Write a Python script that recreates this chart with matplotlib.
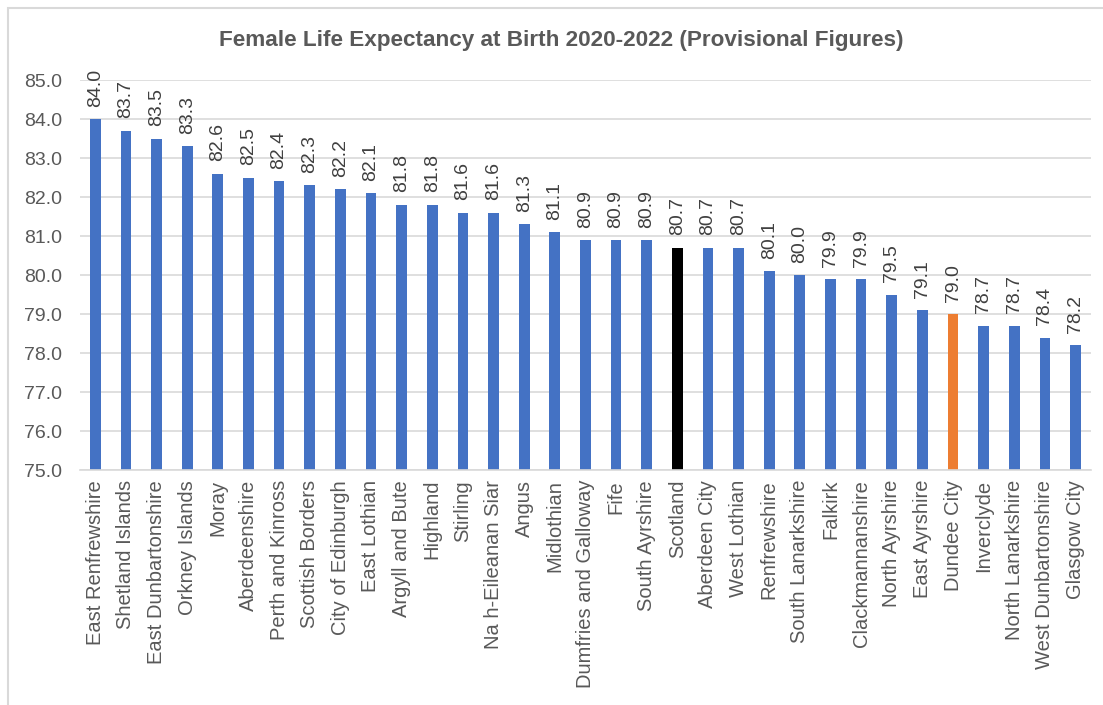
import matplotlib
matplotlib.use("Agg")
import matplotlib.pyplot as plt
from matplotlib.patches import Rectangle

plt.rcParams['font.family'] = ['Liberation Sans', 'DejaVu Sans']

areas = [
    "East Renfrewshire", "Shetland Islands", "East Dunbartonshire", "Orkney Islands",
    "Moray", "Aberdeenshire", "Perth and Kinross", "Scottish Borders",
    "City of Edinburgh", "East Lothian", "Argyll and Bute", "Highland",
    "Stirling", "Na h-Eileanan Siar", "Angus", "Midlothian",
    "Dumfries and Galloway", "Fife", "South Ayrshire", "Scotland",
    "Aberdeen City", "West Lothian", "Renfrewshire", "South Lanarkshire",
    "Falkirk", "Clackmannanshire", "North Ayrshire", "East Ayrshire",
    "Dundee City", "Inverclyde", "North Lanarkshire", "West Dunbartonshire",
    "Glasgow City",
]
life_expectancy = [
    84.0, 83.7, 83.5, 83.3, 82.6, 82.5, 82.4, 82.3, 82.2, 82.1, 81.8, 81.8,
    81.6, 81.6, 81.3, 81.1, 80.9, 80.9, 80.9, 80.7, 80.7, 80.7, 80.1, 80.0,
    79.9, 79.9, 79.5, 79.1, 79.0, 78.7, 78.7, 78.4, 78.2,
]
y_ticks = [75.0, 76.0, 77.0, 78.0, 79.0, 80.0, 81.0, 82.0, 83.0, 84.0, 85.0]

BLUE = "#4472C4"
ORANGE = "#ED7D31"
BLACK = "#000000"
highlight = {"Scotland": BLACK, "Dundee City": ORANGE}
colors = [highlight.get(a, BLUE) for a in areas]

fig = plt.figure(figsize=(11.03, 7.05), dpi=100)
ax = fig.add_axes([0.0725, 0.333, 0.9165, 0.5535])

x = list(range(len(areas)))
bottom = y_ticks[0]
ax.bar(x, [v - bottom for v in life_expectancy], bottom=bottom,
       width=0.35, color=colors, zorder=3)

for xi, v in zip(x, life_expectancy):
    ax.annotate(f"{v:.1f}", (xi, v), xytext=(0, 9), textcoords="offset points",
                rotation=90, ha="center", va="bottom", fontsize=14,
                color="#404040", zorder=4)

ax.set_ylim(y_ticks[0], y_ticks[-1])
ax.set_xlim(-0.5, len(areas) - 0.5)
ax.set_yticks(y_ticks)
ax.set_yticklabels([f"{t:.1f}" for t in y_ticks], fontsize=14, color="#595959")
ax.set_xticks(x)
ax.set_xticklabels(areas, rotation=90, fontsize=14.5, color="#595959")
ax.tick_params(axis="x", length=0, pad=7)
ax.tick_params(axis="y", length=0, pad=13)

ax.grid(axis="y", color="#D9D9D9", linewidth=1.2, zorder=0)
for side in ("top", "right", "left"):
    ax.spines[side].set_visible(False)
ax.spines["bottom"].set_color("#D9D9D9")
ax.spines["bottom"].set_linewidth(1.2)
ax.spines["bottom"].set_zorder(3.5)

fig.text(0.509, 0.943,
         "Female Life Expectancy at Birth 2020-2022 (Provisional Figures)",
         ha="center", va="center", fontsize=16.2, fontweight="bold", color="#595959")

# Chart frame (extends past the right and bottom edges)
fig.patches.append(Rectangle((8 / 1103, -0.05), 1.2, 1 - 8 / 705 + 0.05,
                             transform=fig.transFigure, fill=False,
                             edgecolor="#D9D9D9", linewidth=1.5))

fig.savefig("out.png", dpi=100)
